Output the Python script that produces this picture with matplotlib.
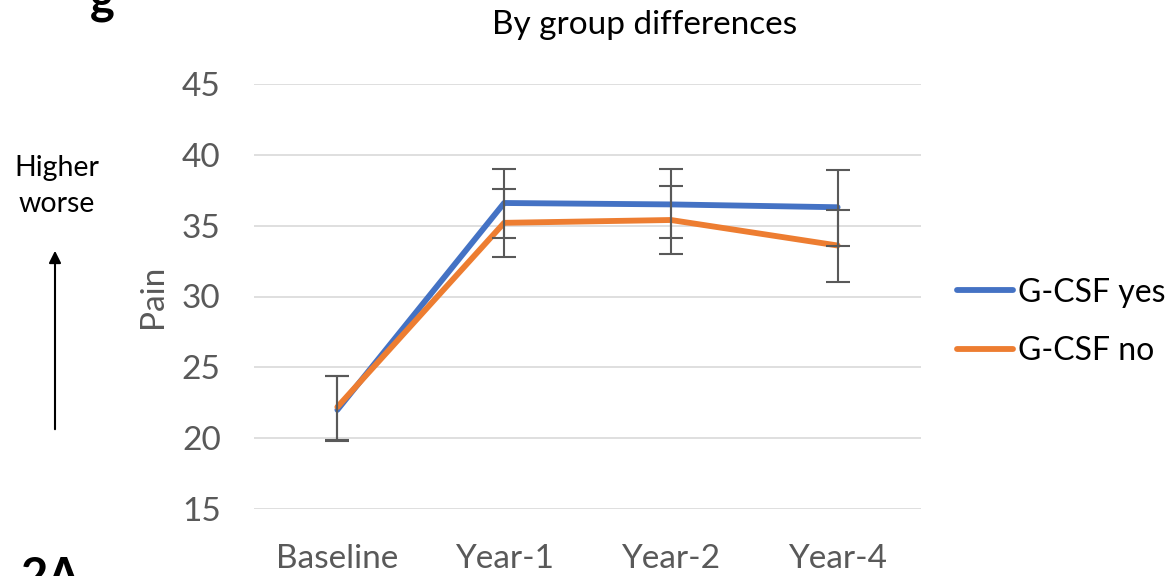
import matplotlib

matplotlib.use("Agg")
import matplotlib.pyplot as plt
import numpy as np

plt.rcParams["font.family"] = ["Lato", "DejaVu Sans"]

CATEGORIES = ["Baseline", "Year-1", "Year-2", "Year-4"]
YES_MEAN = [22.0, 36.6, 36.5, 36.3]
YES_LOW = [2.2, 2.5, 2.4, 2.7]
YES_HIGH = [2.4, 2.4, 2.5, 2.6]
NO_MEAN = [22.2, 35.2, 35.4, 33.6]
NO_LOW = [2.3, 2.4, 2.4, 2.6]
NO_HIGH = [2.2, 2.4, 2.4, 2.5]
Y_TICKS = [15, 20, 25, 30, 35, 40, 45]

GRAY = "#595959"

fig = plt.figure(figsize=(11.71, 5.76), dpi=100)
ax = fig.add_axes([254 / 1171, 1 - 509 / 576, 667 / 1171, 425 / 576])

x = np.arange(len(CATEGORIES))
ax.plot(x, YES_MEAN, color="#4472c4", linewidth=4.2, solid_capstyle="round",
        label="G-CSF yes", zorder=3)
ax.plot(x, NO_MEAN, color="#ed7d31", linewidth=4.2, solid_capstyle="round",
        label="G-CSF no", zorder=3)
for mean, lo, hi in [(YES_MEAN, YES_LOW, YES_HIGH), (NO_MEAN, NO_LOW, NO_HIGH)]:
    ax.errorbar(x, mean, yerr=[lo, hi], fmt="none", ecolor=GRAY, elinewidth=1.5,
                capsize=8.5, capthick=1.5, zorder=4)

ax.set_xlim(-0.5, 3.5)
ax.set_ylim(15, 45)
ax.set_yticks(Y_TICKS)
ax.set_xticks(x)
ax.set_xticklabels(CATEGORIES)
ax.tick_params(axis="both", length=0, labelsize=24, labelcolor=GRAY)
ax.tick_params(axis="y", pad=24)
ax.tick_params(axis="x", pad=25)
ax.grid(axis="y", color="#d9d9d9", linewidth=1.2)
ax.set_axisbelow(True)
for s in ax.spines.values():
    s.set_visible(False)
ax.set_ylabel("Pain", fontsize=24, color=GRAY, labelpad=10)
ax.set_title("By group differences", fontsize=24, color="black", pad=36,
             x=(645 - 254) / 667)

fig.legend(handles=ax.get_lines()[:2], loc="center left",
           bbox_to_anchor=(957 / 1171, 1 - 322 / 576), frameon=False,
           borderpad=0, borderaxespad=0,
           fontsize=23, handlelength=1.75, handletextpad=0.15, labelspacing=0.9,
           labelcolor="black")

fig.text(57 / 1171, 1 - 186 / 576, "Higher\nworse", ha="center", va="center",
         fontsize=20.5, linespacing=1.45)
fig.add_artist(matplotlib.patches.FancyArrowPatch(
    (55 / 1171, 1 - 432 / 576), (55 / 1171, 1 - 248 / 576),
    transform=fig.transFigure, arrowstyle="-|>", mutation_scale=18,
    color="black", linewidth=1.5))

fig.text(102 / 1171, 1 + 22 / 576, "g", ha="center", va="top", fontsize=34,
         fontweight="bold")
fig.text(20 / 1171, 1 - 600 / 576, "2A", ha="left", va="bottom", fontsize=34,
         fontweight="bold")

fig.savefig("out.png", dpi=100)
